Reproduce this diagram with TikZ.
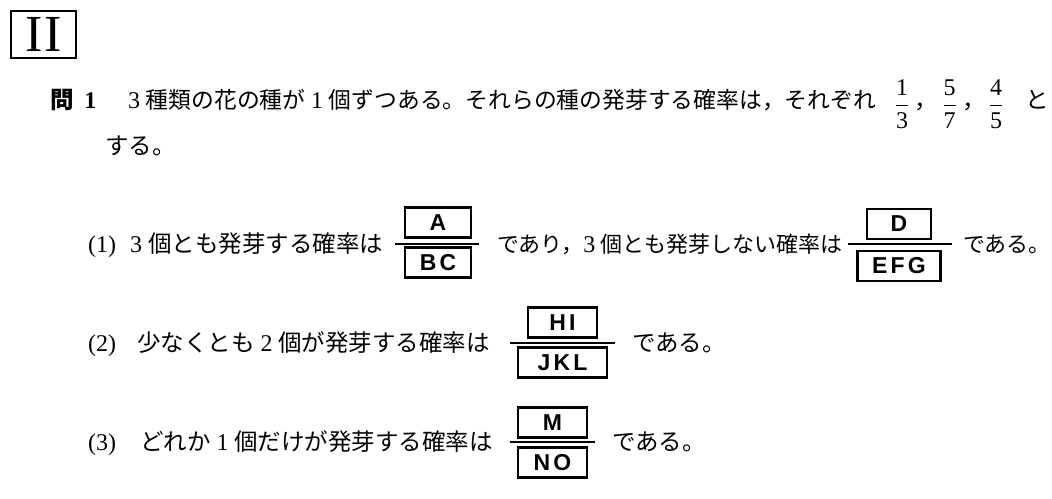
\RequirePackage{fix-cm}
\documentclass[tikz,border=0pt]{standalone}
\usepackage{amsmath}
\usepackage{fontspec}
\usetikzlibrary{positioning}
\setmainfont{Liberation Serif}
\newfontfamily\jpfont{Noto Sans CJK JP}
\newfontfamily\boxfont[LetterSpace=14]{Liberation Sans}
\newcommand{\jpsize}{\fontsize{23.5}{28}\selectfont}
\newcommand{\dgt}[1]{\hspace{0.25em}{\rmfamily\fontsize{24}{28}\selectfont #1}\hspace{0.25em}}

\tikzset{
  jtext/.style={anchor=base west, inner sep=0pt, font=\jpfont\jpsize},
  ltext/.style={anchor=base west, inner sep=0pt, font=\fontsize{24}{28}\selectfont},
  fracnode/.style={inner sep=0pt, font=\fontsize{24}{28}\selectfont},
  ansbox/.style={draw, rectangle, line width=2.6pt, inner sep=0pt, minimum height=30pt, font=\boxfont\bfseries\fontsize{23}{26}\selectfont},
  fracbar/.style={line width=1.4pt}
}

\begin{document}
\begin{tikzpicture}[x=1pt, y=-1pt, node distance=40pt]
    \useasboundingbox (0,0) rectangle (1052,498);

    % Heading box
    \node (title) [draw, rectangle, line width=1.4pt, minimum width=65pt, minimum height=47pt, inner sep=0pt, font=\fontsize{52}{52}\selectfont] at (43.5,34.5) {I\kern2pt I};

    % Problem statement
    \node (q1no) [jtext] at (50,108.5) {{\bfseries 問}\hspace{0.45em}{\rmfamily\bfseries\fontsize{24}{28}\selectfont 1}};
    \node (q1text) [jtext, font=\jpfont\fontsize{22.8}{28}\selectfont] at (128,108.5) {{\rmfamily\fontsize{24}{28}\selectfont 3}\hspace{0.25em}種類の花の種が\dgt{1}個ずつある。それらの種の発芽する確率は，それぞれ};
    \node (f13) [fracnode] at (902,104) {$\dfrac{\text{1}}{\text{3}}$};
    \node (c13) [jtext] at (914,108.5) {，};
    \node (f57) [fracnode] at (949.5,104) {$\dfrac{\text{5}}{\text{7}}$};
    \node (c57) [jtext] at (962,108.5) {，};
    \node (f45) [fracnode] at (996,104) {$\dfrac{\text{4}}{\text{5}}$};
    \node (q1to) [jtext] at (1025,108.5) {と};
    \node (q1end) [jtext] at (105,154) {する。};

    % (1)
    \node (p1) [ltext] at (88,252.5) {(1)};
    \node (p1a) [jtext] at (130,252.5) {{\rmfamily\fontsize{24}{28}\selectfont 3}\hspace{0.25em}個とも発芽する確率は};
    \coordinate (bar1w) at (395,244);
    \coordinate (bar1e) at (479,244);
    \draw[fracbar] (bar1w) -- (bar1e);
    \node (A) [ansbox, minimum width=66pt] at (438,222.5) {A};
    \node (BC) [ansbox, minimum width=66pt, below of=A] {BC};
    \node (p1b) [jtext, font=\jpfont\fontsize{22}{28}\selectfont] at (497,252.5) {であり，{\rmfamily\fontsize{24}{28}\selectfont 3}\hspace{0.25em}個とも発芽しない確率は};
    \coordinate (bar2w) at (848,244);
    \coordinate (bar2e) at (952,244);
    \draw[fracbar] (bar2w) -- (bar2e);
    \node (D) [ansbox, minimum width=64pt] at (899,224) {D};
    \node (EFG) [ansbox, minimum width=83pt, below of=D, yshift=-2pt] {EFG};
    \node (p1c) [jtext, font=\jpfont\fontsize{22}{28}\selectfont] at (963,252.5) {である。};

    % (2)
    \node (p2) [ltext] at (88,351.5) {(2)};
    \node (p2a) [jtext] at (137,351.5) {少なくとも\dgt{2}個が発芽する確率は};
    \coordinate (bar3w) at (510,343);
    \coordinate (bar3e) at (615,343);
    \draw[fracbar] (bar3w) -- (bar3e);
    \node (HI) [ansbox, minimum width=69pt] at (562.5,322.5) {HI};
    \node (JKL) [ansbox, minimum width=89pt, below of=HI] {JKL};
    \node (p2b) [jtext] at (632,351.5) {である。};

    % (3)
    \node (p3) [ltext] at (88,450.5) {(3)};
    \node (p3a) [jtext] at (140,450.5) {どれか\dgt{1}個だけが発芽する確率は};
    \coordinate (bar4w) at (510,442);
    \coordinate (bar4e) at (595,442);
    \draw[fracbar] (bar4w) -- (bar4e);
    \node (M) [ansbox, minimum width=69pt] at (552.5,422.5) {M};
    \node (NO) [ansbox, minimum width=69pt, below of=M] {NO};
    \node (p3b) [jtext] at (612,450.5) {である。};

\end{tikzpicture}
\end{document}
